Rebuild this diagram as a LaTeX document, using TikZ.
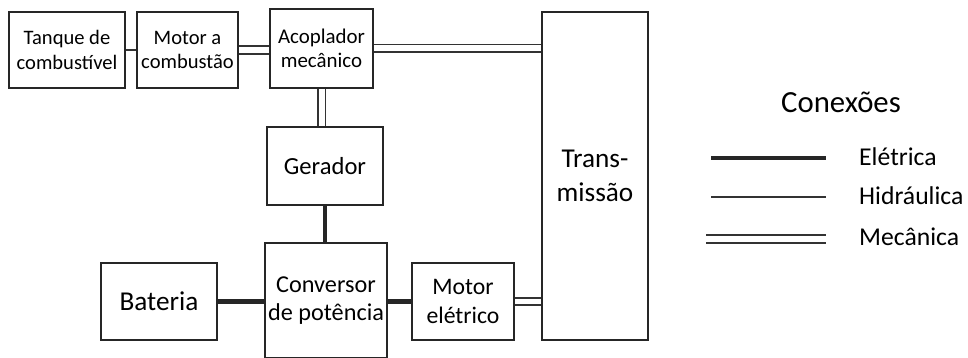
\documentclass[tikz,border=0pt]{standalone}
\usepackage{fontspec}
\setmainfont{Carlito}
\usetikzlibrary{positioning,backgrounds}

\begin{document}
\begin{tikzpicture}[
  x=0.02cm, y=-0.02cm,
  bloco/.style={draw=black!85, line width=1.1pt, align=center, inner sep=1pt,
                font=\fontsize{14}{16}\selectfont},
  eletrica/.style={draw=black!85, line width=2.8pt},
  hidraulica/.style={draw=black!80, line width=1.1pt},
  mecanica/.style={draw=black!80, line width=0.9pt, double=white, double distance=0.12cm},
  legenda/.style={font=\fontsize{14.6}{17}\selectfont, anchor=west},
]
\useasboundingbox (0,0) rectangle (968,358);

%% Blocos
\node[bloco, font=\fontsize{11.7}{14}\selectfont, minimum width=2.32cm, minimum height=1.52cm]
  (tanque) at (67,50) {Tanque de\\combustível};
\node[bloco, font=\fontsize{11.7}{14}\selectfont, minimum width=2.02cm, minimum height=1.52cm]
  (motorc) at (187.5,50) {Motor a\\combustão};
\node[bloco, font=\fontsize{11.9}{14}\selectfont, minimum width=2.06cm, minimum height=1.58cm]
  (acopl) at (321.5,48.5) {Acoplador\\mecânico};
\node[bloco, font=\fontsize{15.5}{19}\selectfont, minimum width=2.12cm, minimum height=6.56cm]
  (trans) at (595,176) {Trans-\\missão};
\node[bloco, minimum width=2.32cm, minimum height=1.56cm]
  (gerador) at (325,166) {Gerador};
\node[bloco, font=\fontsize{13.8}{16}\selectfont, minimum width=2.44cm, minimum height=2.30cm]
  (conv) at (326,300.5) {Conversor\\de potência};
\node[bloco, font=\fontsize{15.5}{18}\selectfont, minimum width=2.32cm, minimum height=1.54cm]
  (bat) at (159,301.5) {Bateria};
\node[bloco, font=\fontsize{13.5}{16}\selectfont, minimum width=2.04cm, minimum height=1.54cm]
  (motore) at (463,301.5) {Motor\\elétrico};

%% Ligações
\begin{scope}[on background layer]
  \draw[hidraulica] (tanque.east) -- (tanque.east -| motorc.west);
  \draw[mecanica] (motorc.east) -- (motorc.east -| acopl.west);
  \draw[mecanica] (acopl.east) -- (acopl.east -| trans.west);
  \draw[mecanica] (acopl.south) -- (acopl.south |- gerador.north);
  \draw[eletrica] (gerador.south) -- (gerador.south |- conv.north);
  \draw[eletrica] (bat.east) -- (bat.east -| conv.west);
  \draw[eletrica] (conv.east |- motore.west) -- (motore.west);
  \draw[mecanica] (motore.east) -- (motore.east -| trans.west);
\end{scope}

%% Legenda
\node[font=\fontsize{17.5}{20}\selectfont] (titulo) at (841,102) {Conexões};
\coordinate (e1) at (711,158); \coordinate (e2) at (826,158);
\coordinate (h1) at (711,197); \coordinate (h2) at (826,197);
\coordinate (m1) at (706,239); \coordinate (m2) at (826,239);
\draw[eletrica] (e1) -- (e2);
\draw[hidraulica] (h1) -- (h2);
\draw[mecanica] (m1) -- (m2);
\node[legenda] (lel) at (853,157) {Elétrica};
\node[legenda] (lhi) at (853,196) {Hidráulica};
\node[legenda] (lme) at (853,237) {Mecânica};

\end{tikzpicture}
\end{document}
